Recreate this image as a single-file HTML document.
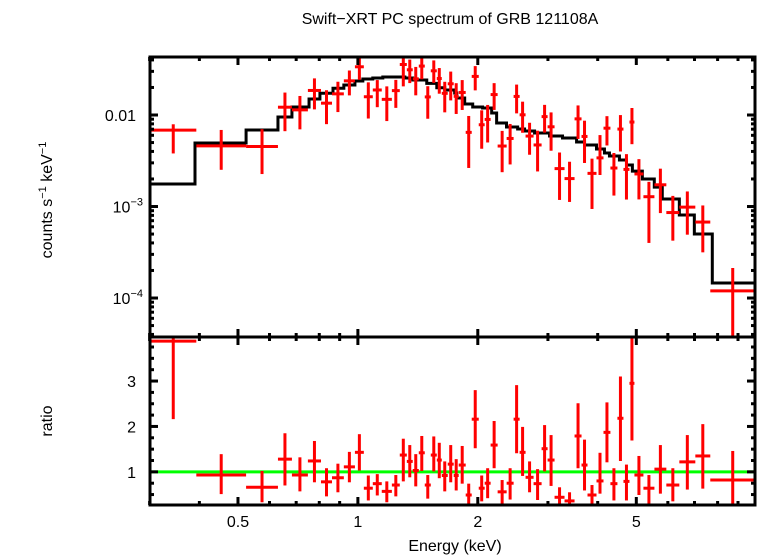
<!DOCTYPE html>
<html><head><meta charset="utf-8"><style>
body{margin:0;background:#fff}
svg{display:block;font-family:"Liberation Sans",sans-serif}
</style></head><body>
<svg id="chart" width="758" height="556" viewBox="0 0 758 556" xmlns="http://www.w3.org/2000/svg">
<defs>
<clipPath id="clipTop"><rect x="150" y="57" width="605" height="280"/></clipPath>
<clipPath id="clipBot"><rect x="150" y="337" width="605" height="168"/></clipPath>
</defs>
<text x="450" y="24" text-anchor="middle" font-size="16">Swift−XRT PC spectrum of GRB 121108A</text>
<text transform="translate(52,200) rotate(-90)" text-anchor="middle" font-size="16">counts s<tspan dy="-6" font-size="11">−1</tspan><tspan dy="6"> keV</tspan><tspan dy="-6" font-size="11">−1</tspan></text>
<text transform="translate(52,421) rotate(-90)" text-anchor="middle" font-size="16">ratio</text>
<text x="455" y="551" text-anchor="middle" font-size="16">Energy (keV)</text>
<g id="gTop" clip-path="url(#clipTop)"></g>
<g id="gBot" clip-path="url(#clipBot)"></g>
<g id="axes"></g>
</svg>
<script>
// energy bin edges (keV)
const binEdges = [0.301,0.393,0.524,0.630,0.683,0.749,0.808,0.861,0.922,0.983,1.035,1.090,1.148,1.217,1.274,1.327,1.373,1.422,1.472,1.524,1.578,1.624,1.681,1.740,1.791,1.865,1.931,2.011,2.081,2.154,2.243,2.363,2.460,2.547,2.636,2.761,2.892,2.994,3.117,3.302,3.499,3.643,3.771,3.972,4.136,4.305,4.483,4.642,4.806,4.946,5.210,5.552,5.948,6.412,7.033,7.668,9.94];
// data/model ratio per bin, with error bounds
const ratio   = [3.88,0.93,0.66,1.28,0.93,1.24,0.78,0.87,1.11,1.43,0.64,0.74,0.57,0.71,1.37,1.23,1.03,1.42,0.71,1.37,1.26,0.92,1.17,0.92,1.15,0.49,2.16,0.64,0.75,1.59,0.56,0.75,2.16,1.43,0.88,0.74,1.51,1.26,0.44,0.36,1.79,1.15,0.49,0.80,1.87,0.74,2.18,0.79,2.95,0.93,0.64,1.06,0.71,1.22,1.35,0.82];
const ratioHi = [4.50,1.39,1.02,1.85,1.32,1.68,1.08,1.18,1.44,1.83,0.92,0.95,0.79,0.93,1.73,1.59,1.39,1.79,0.93,1.78,1.64,1.23,1.59,1.28,1.57,0.74,2.80,0.92,1.08,2.12,0.82,1.08,2.91,1.99,1.23,1.06,2.03,1.81,0.66,0.55,2.51,1.71,0.71,1.42,2.53,1.08,3.10,1.16,4.20,1.35,0.93,1.59,1.08,1.81,2.05,1.46];
const ratioLo = [2.16,0.51,0.33,0.70,0.57,0.77,0.46,0.55,0.77,1.03,0.37,0.48,0.33,0.46,0.79,0.88,0.68,1.02,0.41,1.01,0.86,0.57,0.77,0.59,0.74,0.20,1.52,0.35,0.42,1.08,0.29,0.39,1.41,0.91,0.55,0.38,1.01,0.69,0.20,0.20,1.08,0.59,0.20,0.52,1.21,0.37,1.24,0.37,1.69,0.49,0.20,0.52,0.35,0.61,0.63,0.20];
// folded model step curve
const modelEdges = [0.301,0.390,0.524,0.630,0.683,0.754,0.803,0.866,0.922,0.983,1.029,1.090,1.155,1.312,1.373,1.489,1.578,1.652,1.750,1.771,1.854,1.942,2.056,2.167,2.230,2.361,2.518,2.621,2.777,3.028,3.264,3.540,3.707,3.972,4.159,4.281,4.535,4.724,4.888,5.178,5.548,5.810,6.412,6.993,7.758,9.94];
const modelVals  = [0.00176,0.00494,0.00686,0.00951,0.01223,0.01496,0.01727,0.01958,0.02128,0.02353,0.02474,0.02537,0.02602,0.02537,0.02413,0.02220,0.01988,0.01876,0.01740,0.01534,0.01319,0.01223,0.01193,0.01052,0.00818,0.00739,0.00703,0.00669,0.00636,0.00590,0.00561,0.00507,0.00470,0.00425,0.00384,0.00356,0.00322,0.00284,0.00244,0.00200,0.00163,0.00121,0.000807,0.000501,0.000146];
const xMajor = [0.5,1,2,5];
const xMajorLabels = ["0.5","1","2","5"];
const xMinor = [0.3,0.4,0.6,0.7,0.8,0.9,3,4,6,7,8,9];
const ratioTicks = [1,2,3];

const NS="http://www.w3.org/2000/svg";
const X0=150,X1=755,TT=57,TB=337,BB=505;
const LEmin=Math.log10(0.30068),LEmax=Math.log10(9.93);
const xs=e=>X0+(Math.log10(e)-LEmin)/(LEmax-LEmin)*(X1-X0);
const yMinT=-4.426,yMaxT=-1.366;
const yT=v=>TB-(Math.log10(v)-yMinT)/(yMaxT-yMinT)*(TB-TT);
const rMin=0.27,rMax=3.97;
const yB=r=>BB-(r-rMin)/(rMax-rMin)*(BB-TB);
function mk(tag,attrs,parent){const el=document.createElementNS(NS,tag);for(const k in attrs)el.setAttribute(k,attrs[k]);parent.appendChild(el);return el;}
function modelAt(e){for(let i=0;i<modelVals.length;i++){if(e>=modelEdges[i]&&e<modelEdges[i+1])return modelVals[i];}return modelVals[modelVals.length-1];}
const gTop=document.getElementById('gTop'),gBot=document.getElementById('gBot'),ax=document.getElementById('axes');

// model step line
let d='';
for(let i=0;i<modelVals.length;i++){const y=yT(modelVals[i]);d+=(i?'L':'M')+xs(modelEdges[i])+','+y+'L'+xs(modelEdges[i+1])+','+y;}
const mline=mk('path',{d:d,fill:'none',stroke:'#000','stroke-width':3},gTop);



// data crosses
for(let i=0;i<ratio.length;i++){
  const e0=binEdges[i],e1=binEdges[i+1],ec=Math.sqrt(e0*e1),m=modelAt(ec);
  const g1=mk('g',{stroke:'#f00','stroke-width':3},gTop);
  
  
  const v=ratio[i]*m,vh=ratioHi[i]*m,vl=Math.max(ratioLo[i]*m,1e-6);
  mk('line',{x1:xs(e0),x2:xs(e1),y1:yT(v),y2:yT(v)},g1);
  mk('line',{x1:xs(ec),x2:xs(ec),y1:yT(vh),y2:yT(vl)},g1);
}
// ratio line at 1
const gl=mk('line',{x1:X0,x2:X1,y1:yB(1),y2:yB(1),stroke:'#0f0','stroke-width':3},gBot);


for(let i=0;i<ratio.length;i++){
  const e0=binEdges[i],e1=binEdges[i+1],ec=Math.sqrt(e0*e1);
  const g2=mk('g',{stroke:'#f00','stroke-width':3},gBot);
  
  
  mk('line',{x1:xs(e0),x2:xs(e1),y1:yB(ratio[i]),y2:yB(ratio[i])},g2);
  mk('line',{x1:xs(ec),x2:xs(ec),y1:yB(ratioHi[i]),y2:yB(ratioLo[i])},g2);
}

// frames
const f1=mk('rect',{x:X0,y:TT,width:X1-X0,height:TB-TT,fill:'none',stroke:'#000','stroke-width':3},ax);


const f2=mk('rect',{x:X0,y:TB,width:X1-X0,height:BB-TB,fill:'none',stroke:'#000','stroke-width':3},ax);


function tk(x1,y1,x2,y2){mk('line',{x1:x1,y1:y1,x2:x2,y2:y2,stroke:'#000','stroke-width':3},ax);}
// x ticks
xMajor.forEach((e,i)=>{const x=xs(e);
  tk(x,TT,x,TT+8);tk(x,TB-8,x,TB+8);tk(x,BB,x,BB-8);
  const t=mk('text',{x:x,y:527,'text-anchor':'middle','font-size':16},ax);t.textContent=xMajorLabels[i];
  
  
});
xMinor.forEach(e=>{const x=xs(e);tk(x,TT,x,TT+4);tk(x,TB-4,x,TB+4);tk(x,BB,x,BB-4);});
// top y ticks
for(let p=-5;p<=-1;p++){for(let k=1;k<10;k++){const v=k*Math.pow(10,p);const y=yT(v);if(y<TT||y>TB)continue;const L=k==1?8:4;tk(X0,y,X0+L,y);tk(X1,y,X1-L,y);}}
const lab=[[0.01,'0.01'],[1e-3,'10','−3'],[1e-4,'10','−4']];
lab.forEach(l=>{const t=mk('text',{x:136,y:yT(l[0])+6,'text-anchor':'end','font-size':16},ax);
  
  
  if(l.length==2)t.textContent=l[1];else{t.textContent=l[1];const s=mk('tspan',{dy:-7,'font-size':11},t);s.textContent=l[2];t.setAttribute('x',143);}});
// bottom y ticks
for(let r=0.5;r<=3.75;r+=0.25){const y=yB(r);const L=(Math.abs(r-Math.round(r))<1e-6)?8:4;tk(X0,y,X0+L,y);tk(X1,y,X1-L,y);}
ratioTicks.forEach(r=>{const t=mk('text',{x:136,y:yB(r)+6,'text-anchor':'end','font-size':16},ax);t.textContent=String(r);
  
  });
</script>
</body></html>
